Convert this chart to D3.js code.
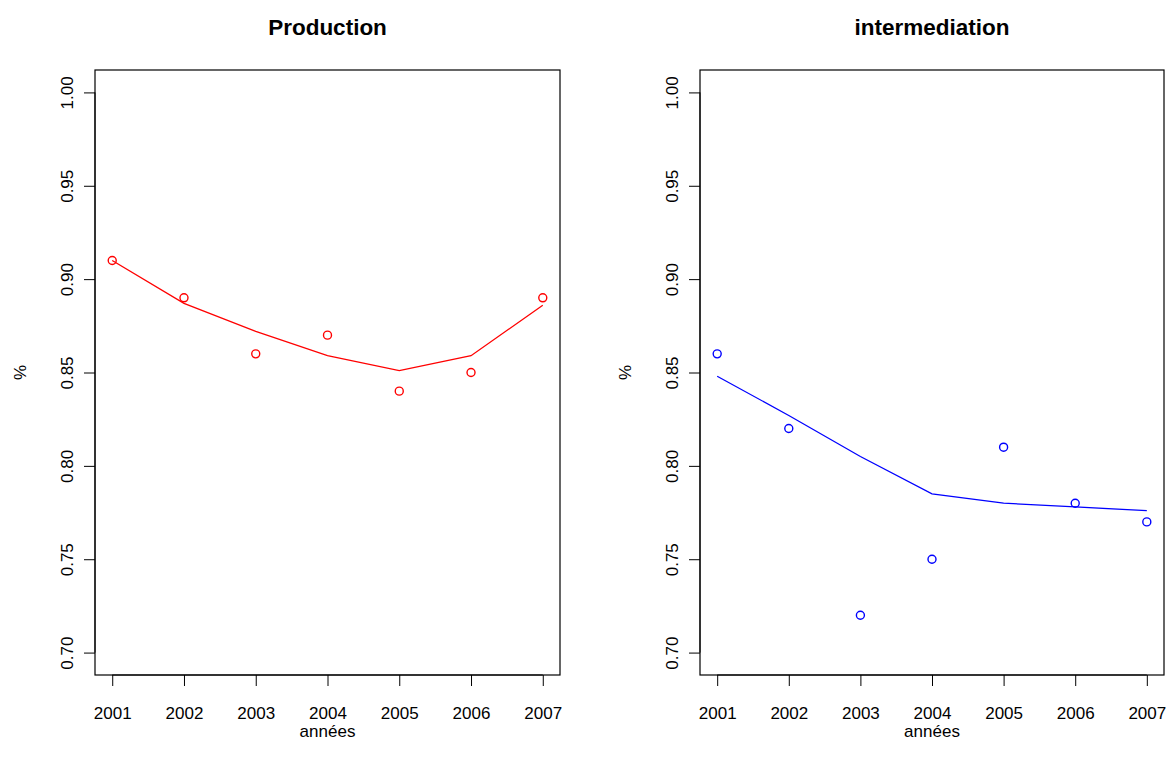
<!DOCTYPE html>
<html>
<head>
  <meta charset="UTF-8">
  <style>
    body { margin: 0; padding: 0; background: #fff; }
    svg { display: block; }
    text { font-family: Arial, "Liberation Sans", sans-serif; fill: #000; }
  </style>
</head>
<body>
<svg></svg>
<script src="https://d3js.org/d3.v7.min.js"></script>
<script>
  let width = 1169, height = 765;

  let years = [2001, 2002, 2003, 2004, 2005, 2006, 2007];
  let yTicks = [0.70, 0.75, 0.80, 0.85, 0.90, 0.95, 1.00];

  // observed values (points)
  let prodPoints = [0.91, 0.89, 0.86, 0.87, 0.84, 0.85, 0.89];
  let interPoints = [0.86, 0.82, 0.72, 0.75, 0.81, 0.78, 0.77];

  // fitted values (line)
  let prodFit = [0.910, 0.887, 0.872, 0.859, 0.851, 0.859, 0.886];
  let interFit = [0.848, 0.827, 0.805, 0.785, 0.780, 0.778, 0.776];

  let svg = d3.select("svg").attr("width", width).attr("height", height);

  let panels = [
    { title: "Production", x0: 95, x1: 560, pts: prodPoints, fit: prodFit, color: "#ff0000" },
    { title: "intermediation", x0: 700, x1: 1164, pts: interPoints, fit: interFit, color: "#0000ff" }
  ];

  let plotTop = 70, plotBottom = 675;

  panels.forEach(p => {
    // R style 4% padding on both axes
    let x = d3.scaleLinear().domain([2001 - 0.24, 2007 + 0.24]).range([p.x0, p.x1]);
    let y = d3.scaleLinear().domain([0.7 - 0.012, 1.0 + 0.012]).range([plotBottom, plotTop]);

    let g = svg.append("g");

    // x axis
    let xAxis = g.append("g")
        .attr("transform", `translate(0, ${plotBottom})`)
        .call(d3.axisBottom(x).tickValues(years).tickFormat(d3.format("d")).tickSize(11).tickPadding(21));
    xAxis.select(".domain").attr("d", `M${x(2001)},0H${x(2007)}`).attr("stroke", "#000");
    xAxis.selectAll("text").attr("font-size", "17px").attr("font-family", "Arial, sans-serif");

    // y axis
    let yAxis = g.append("g")
        .attr("transform", `translate(${p.x0}, 0)`)
        .call(d3.axisLeft(y).tickValues(yTicks).tickFormat(d3.format(".2f")).tickSize(11));
    yAxis.select(".domain").attr("d", `M0,${y(0.7)}V${y(1.0)}`).attr("stroke", "#000");
    yAxis.selectAll("text")
        .attr("font-size", "17px")
        .attr("font-family", "Arial, sans-serif")
        .attr("text-anchor", "middle")
        .attr("x", null)
        .attr("dy", null)
        .attr("transform", "translate(-28, 0) rotate(-90)")
        .attr("y", 0)
        .attr("dominant-baseline", "central");

    // box
    g.append("rect")
        .attr("x", p.x0).attr("y", plotTop)
        .attr("width", p.x1 - p.x0).attr("height", plotBottom - plotTop)
        .attr("fill", "none").attr("stroke", "#000").attr("stroke-width", 1.2);

    // fitted line
    let line = d3.line().x((d, i) => x(years[i])).y(d => y(d));
    g.append("path")
        .datum(p.fit)
        .attr("d", line)
        .attr("fill", "none")
        .attr("stroke", p.color)
        .attr("stroke-width", 1.3);

    // points
    g.selectAll("circle.pt")
        .data(p.pts)
        .enter()
        .append("circle")
        .attr("class", "pt")
        .attr("cx", (d, i) => x(years[i]))
        .attr("cy", d => y(d))
        .attr("r", 4)
        .attr("fill", "none")
        .attr("stroke", p.color)
        .attr("stroke-width", 1.4);

    // title
    g.append("text")
        .attr("x", (p.x0 + p.x1) / 2)
        .attr("y", 35)
        .attr("text-anchor", "middle")
        .attr("font-size", "22.5px")
        .attr("font-weight", "bold")
        .text(p.title);

    // x label
    g.append("text")
        .attr("x", (p.x0 + p.x1) / 2)
        .attr("y", 737)
        .attr("text-anchor", "middle")
        .attr("font-size", "17px")
        .text("années");

    // y label
    g.append("text")
        .attr("transform", `translate(${p.x0 - 75}, ${(plotTop + plotBottom) / 2}) rotate(-90)`)
        .attr("text-anchor", "middle")
        .attr("dominant-baseline", "central")
        .attr("font-size", "17px")
        .text("%");
  });
</script>
</body>
</html>
